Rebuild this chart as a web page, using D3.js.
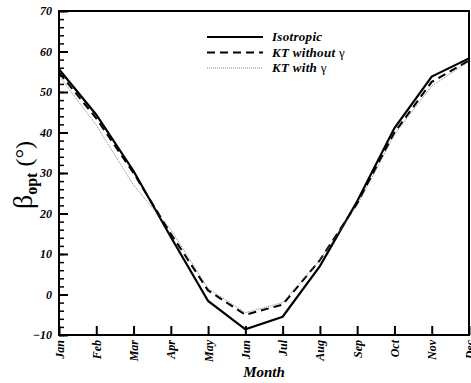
<!DOCTYPE html>
<html>
<head>
<meta charset="utf-8">
<script src="https://cdn.jsdelivr.net/npm/d3@7"></script>
<style>
  body { margin: 0; background: #fff; }
  svg text { font-family: "Liberation Serif", "Times New Roman", serif !important; }
</style>
</head>
<body>
<div id="chart"></div>
<script>
const months = ["Jan", "Feb", "Mar", "Apr", "May", "Jun", "Jul", "Aug", "Sep", "Oct", "Nov", "Dec"];
const isotropic = [55.6, 44.4, 30.5, 14.2, -1.6, -8.6, -5.5, 7.0, 23.0, 41.1, 53.8, 58.3];
const ktWithout = [54.8, 43.5, 30.0, 15.0, 1.0, -5.0, -2.5, 8.5, 22.5, 40.0, 52.5, 57.8];
const ktWith = [54.0, 41.8, 27.0, 16.0, 1.5, -4.5, -2.0, 8.5, 22.0, 39.5, 51.5, 57.5];
const yTicks = [-10, 0, 10, 20, 30, 40, 50, 60, 70];

const width = 471, height = 383;
const margin = { top: 11, right: 2, bottom: 48, left: 59 };

const svg = d3.select("#chart").append("svg")
    .attr("width", width)
    .attr("height", height);

const x = d3.scalePoint()
    .domain(months)
    .range([margin.left, width - margin.right]);

const y = d3.scaleLinear()
    .domain([-10, 70])
    .range([height - margin.bottom, margin.top]);

// minor y ticks (inward)
svg.append("g")
    .attr("transform", `translate(${margin.left},0)`)
    .call(d3.axisRight(y).tickValues(d3.range(-10, 71, 2)).tickSize(5).tickFormat(""))
    .call(g => g.select(".domain").remove())
    .selectAll("line").attr("stroke-width", 1.5);

// major y ticks + labels
const yAxis = svg.append("g")
    .attr("transform", `translate(${margin.left},0)`)
    .call(d3.axisRight(y).tickValues(yTicks).tickSize(9).tickFormat(d3.format("d")));
yAxis.select(".domain").remove();
yAxis.selectAll("line").attr("stroke-width", 2);
yAxis.selectAll("text")
    .attr("x", -7)
    .attr("text-anchor", "end")
    .style("font-size", "12px")
    .style("font-weight", "bold")
    .style("font-style", "italic");

// x ticks (inward) + rotated labels
const xAxis = svg.append("g")
    .attr("transform", `translate(0,${height - margin.bottom})`)
    .call(d3.axisTop(x).tickSize(9));
xAxis.select(".domain").remove();
xAxis.selectAll("line").attr("stroke-width", 2);
xAxis.selectAll("text")
    .attr("x", 0).attr("y", 0)
    .attr("transform", "translate(4,5) rotate(-90)")
    .attr("dy", 0)
    .attr("text-anchor", "end")
    .style("font-size", "12px")
    .style("font-weight", "bold")
    .style("font-style", "italic");

// frame
svg.append("rect")
    .attr("x", margin.left)
    .attr("y", margin.top)
    .attr("width", width - margin.right - margin.left)
    .attr("height", height - margin.bottom - margin.top)
    .attr("fill", "none")
    .attr("stroke", "#000")
    .attr("stroke-width", 2);

const line = d3.line()
    .x((d, i) => x(months[i]))
    .y(d => y(d));

const series = [
    { name: "Isotropic", sym: "", values: isotropic, color: "#000", width: 2.2, dash: null },
    { name: "KT without ", sym: "\u03b3", values: ktWithout, color: "#000", width: 2, dash: "8,5" },
    { name: "KT with ", sym: "\u03b3", values: ktWith, color: "#666", width: 0.8, dash: "1,1" }
];

series.forEach(s => {
    svg.append("path")
        .datum(s.values)
        .attr("d", line)
        .attr("fill", "none")
        .attr("stroke", s.color)
        .attr("stroke-width", s.width)
        .attr("stroke-dasharray", s.dash);
});

// legend
const legend = svg.append("g");
series.forEach((s, i) => {
    const ly = 37 + i * 15.5;
    legend.append("line")
        .attr("x1", 207).attr("x2", 263)
        .attr("y1", ly).attr("y2", ly)
        .attr("stroke", s.color)
        .attr("stroke-width", s.width)
        .attr("stroke-dasharray", s.dash);
    const t = legend.append("text")
        .attr("x", 272).attr("y", ly + 4)
        .style("font-size", "13px");
    t.append("tspan")
        .style("font-weight", "bold")
        .style("font-style", "italic")
        .style("letter-spacing", "0.3px")
        .text(s.name);
    t.append("tspan").text(s.sym);
});

// axis titles
svg.append("text")
    .attr("x", 264)
    .attr("y", 377)
    .attr("text-anchor", "middle")
    .style("font-size", "15px")
    .style("font-weight", "bold")
    .style("font-style", "italic")
    .text("Month");

const yt = svg.append("text")
    .attr("transform", `translate(32,175) rotate(-90)`)
    .attr("text-anchor", "middle");
yt.append("tspan").style("font-size", "28px").text("\u03b2");
yt.append("tspan").style("font-size", "16px").style("font-weight", "bold").attr("dy", 5).text("opt");
yt.append("tspan").style("font-size", "24px").attr("dy", -5).text(" (\u00b0)");
</script>
</body>
</html>
